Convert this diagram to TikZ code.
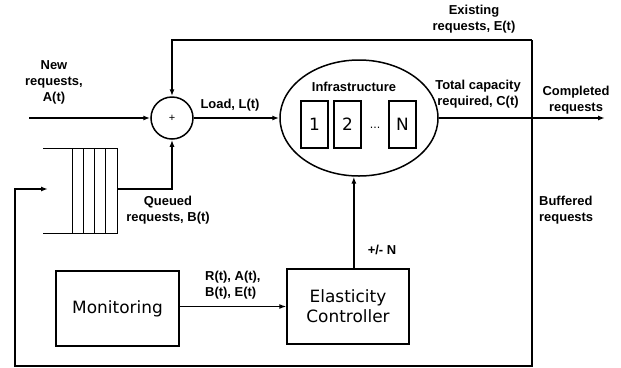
\documentclass[tikz,border=0pt]{standalone}
\usepackage{fontspec}
\setmainfont{Liberation Sans}
\newfontfamily\blockfont{DejaVu Sans}
\usetikzlibrary{positioning,arrows.meta,shapes}

\begin{document}
\begin{tikzpicture}[x=1bp, y=-1bp, >={Latex[length=7bp,width=5bp]},
    lbl/.style={font=\fontsize{13}{16}\selectfont\bfseries, align=center, inner sep=0},
    blk/.style={draw, line width=1.5bp, inner sep=0, align=center,
                font=\fontsize{17}{20}\selectfont\blockfont},
    wire/.style={line width=1.8bp, ->}]
  \newcommand\slot[1]{
    \draw[line width=1bp] (#1,148) -- (#1,233);
  }
  \useasboundingbox (0,0) rectangle (621,367);

  \node[draw, circle, line width=1.5bp, minimum size=42bp, inner sep=0,
        font=\fontsize{11}{13}\selectfont] (sum) at (172,118) {+};
  \node[draw, ellipse, line width=1.5bp, minimum width=158bp, minimum height=116bp] (infra) at (359,118) {};
  \node[lbl] (infralbl) at (354,87) {Infrastructure};
  \node[blk, minimum width=27bp, minimum height=47bp] (b1) at (314.5,124.5) {1};
  \node[blk, minimum width=27bp, minimum height=47bp] (b2) at (347.5,124.5) {2};
  \node[blk, minimum width=27bp, minimum height=47bp] (bN) at (402.5,124.5) {N};
  \node[font=\fontsize{11}{13}\selectfont\blockfont] (dots) at (375,128) {...};
  %
  \node[blk, minimum width=123bp, minimum height=75bp] (monitor) at (117.5,308.5) {Monitoring};
  \node[blk, minimum width=122bp, minimum height=75bp] (ctrl) at (348,306.5) {Elasticity\\Controller};
  %
  % queue
  \draw[line width=1bp] (43,148) -- (117,148) -- (117,233) -- (43,233);
  \slot{72}
  \slot{83}
  \slot{94}
  \slot{105}
  %
  \node[coordinate] (newin) at (29,118) {};
  \node[coordinate] (done) at (605,118) {};
  \node[coordinate] (qout) at (117,189) {};
  \node[coordinate] (qin) at (48,189) {};
  \node[coordinate] (corner) at (532,40) {};
  \node[coordinate] (ebot) at (532,366) {};
  \node[coordinate] (bbot) at (15,366) {};
  %
  \draw[wire] (newin) -- (sum.west);
  \draw[wire] (sum.east) -- (infra.west);
  \draw[wire] (infra.east) -- (done);
  \draw[wire] (qout) -| (sum.south);
  \draw[wire] (corner) -| (sum.north);
  \draw[line width=1.5bp, ->] (corner) -- (ebot) -- (bbot) |- (qin);
  \draw[wire] (ctrl.north -| infra.265) -- (infra.265);
  \draw[line width=1.2bp, ->] (monitor.east |- ctrl.west) -- (ctrl.west);
  %
  \node[lbl] (newlbl) at (54,82) {New\\requests,\\A(t)};
  \node[lbl] (loadlbl) at (230,105) {Load, L(t)};
  \node[lbl] (queuelbl) at (168,210) {Queued\\requests, B(t)};
  \node[lbl] (existlbl) at (474,19) {Existing\\requests, E(t)};
  \node[lbl] (caplbl) at (478,94) {Total capacity\\required, C(t)};
  \node[lbl] (donelbl) at (576,100) {Completed\\requests};
  \node[lbl, align=left, anchor=west] (buflbl) at (539,210) {Buffered\\requests};
  \node[lbl] (nlbl) at (382,250) {+/- N};
  \node[lbl, align=left, anchor=west] (monlbl) at (205,285) {R(t), A(t),\\B(t), E(t)};
\end{tikzpicture}
\end{document}
